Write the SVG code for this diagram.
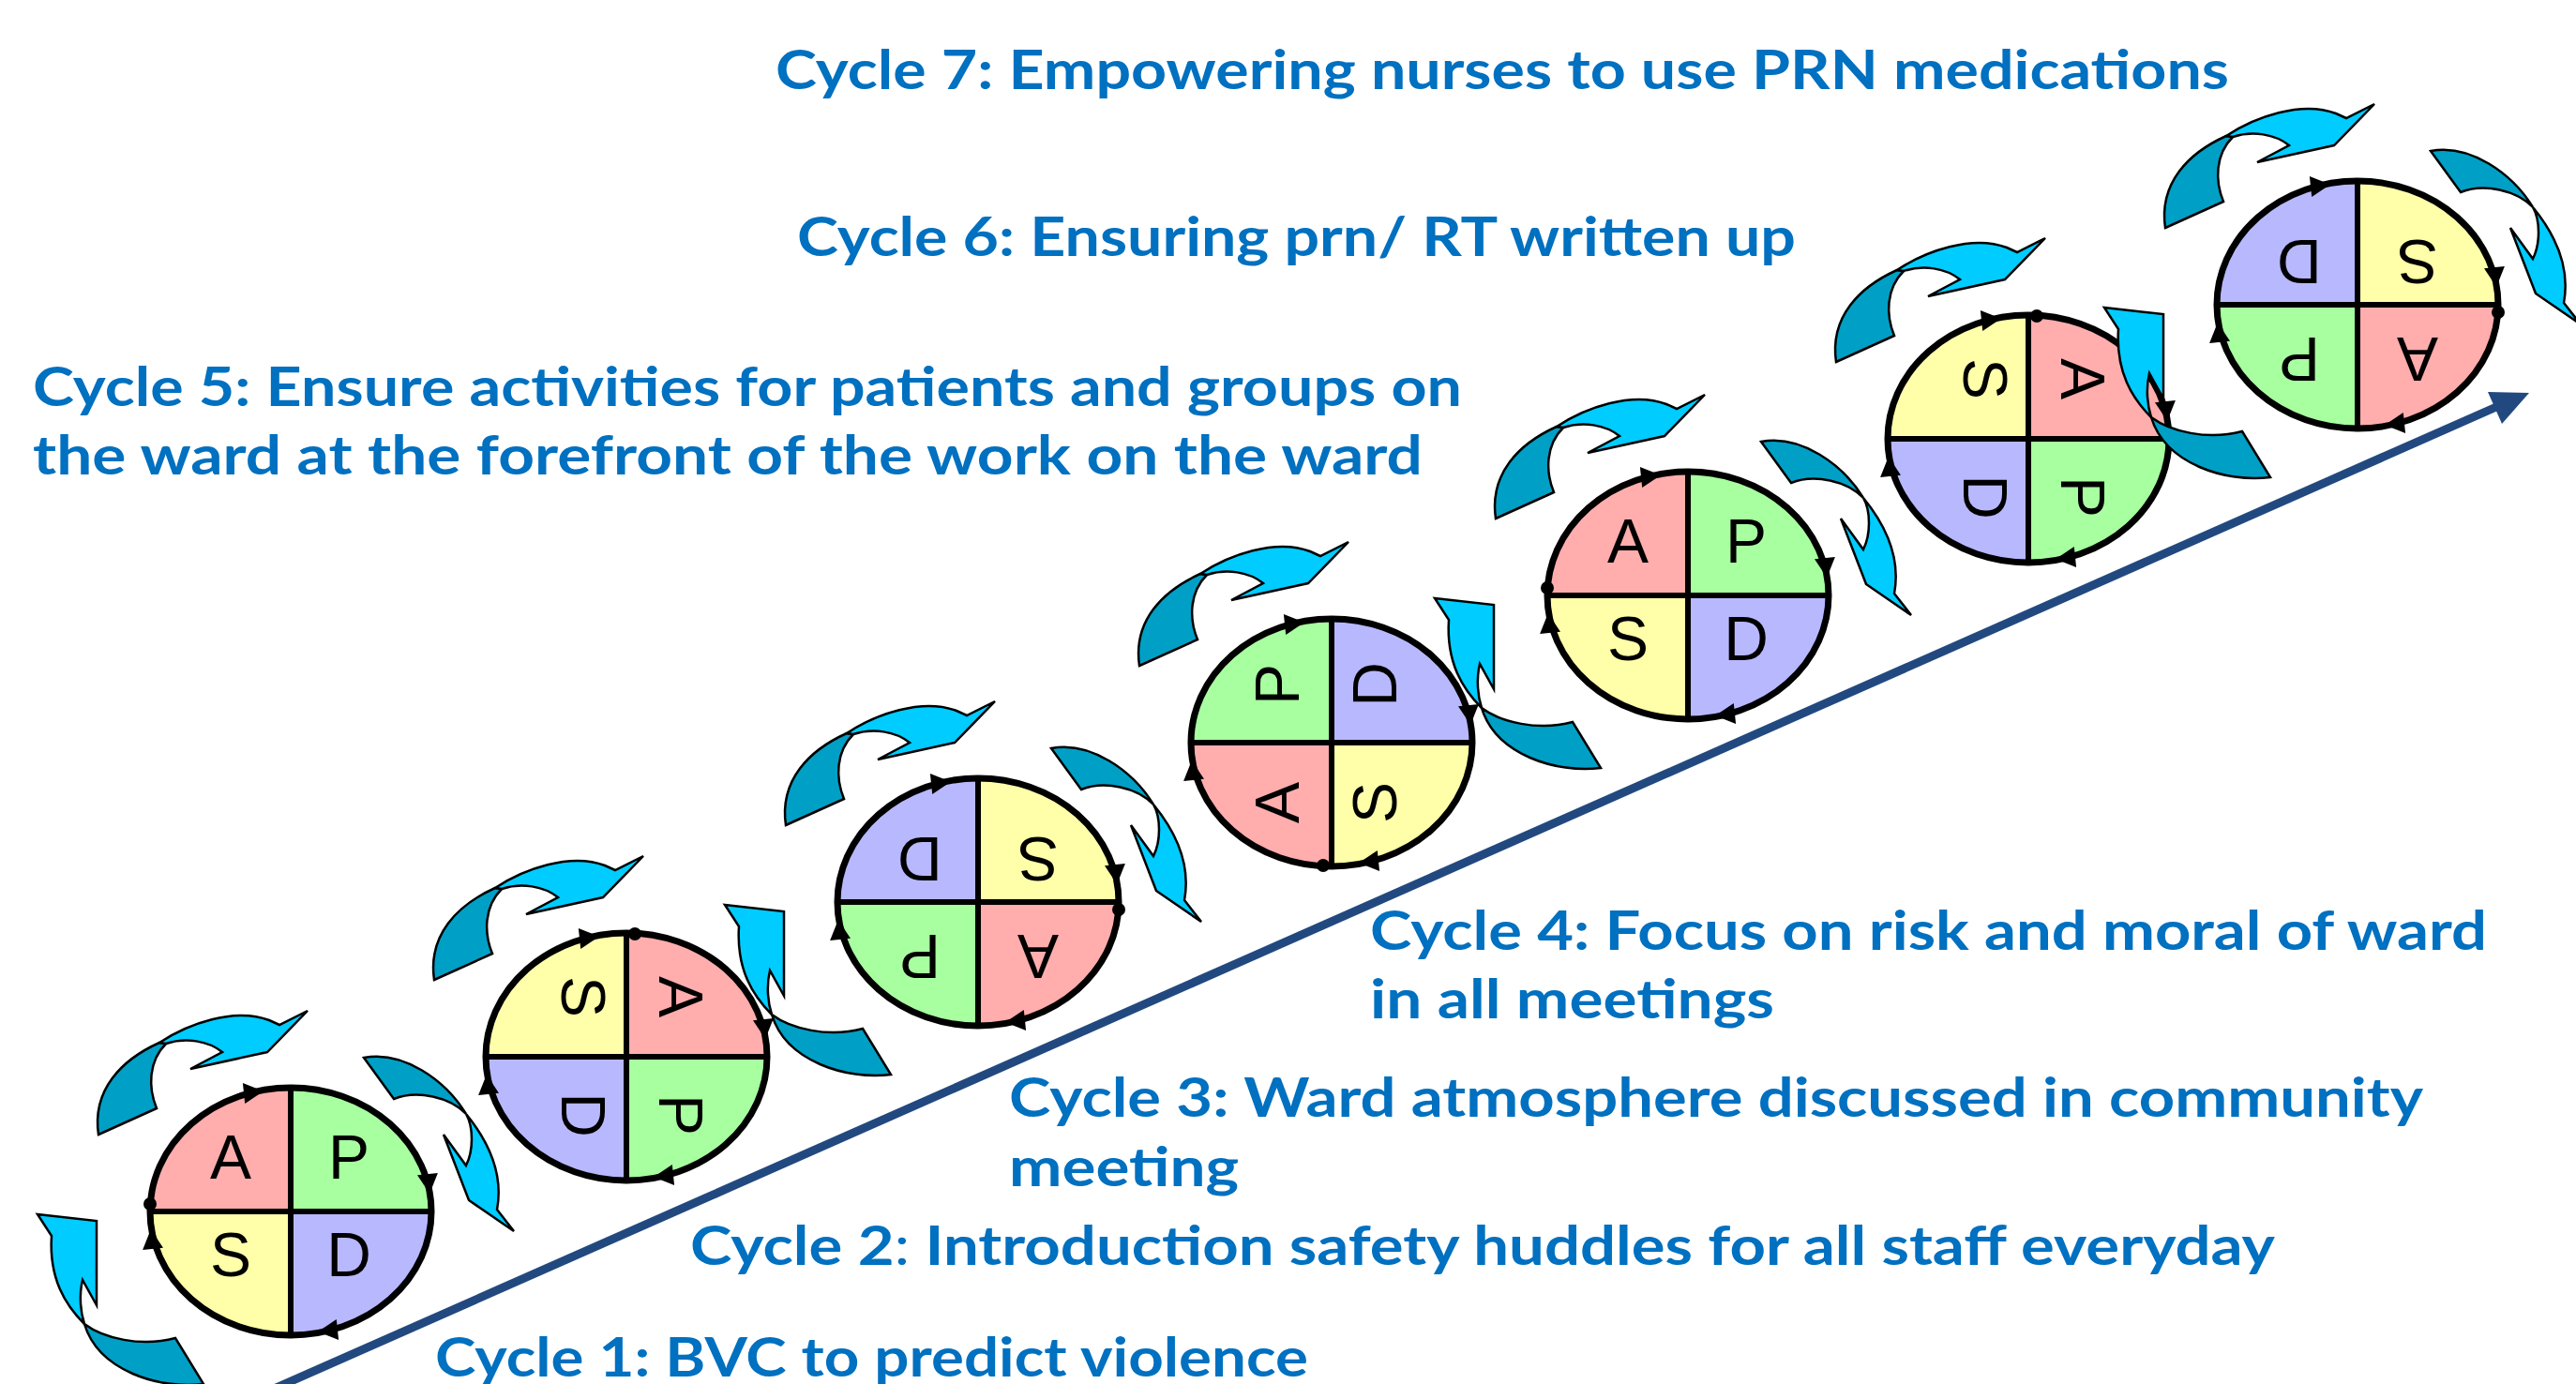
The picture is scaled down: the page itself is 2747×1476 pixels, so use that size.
<svg xmlns="http://www.w3.org/2000/svg" width="2747" height="1476" viewBox="0 0 2747 1476">
<style>
.ol{fill:none;stroke:#000;stroke-width:7}
.dv{stroke:#000;stroke-width:6}
.lt{font-family:"Liberation Sans",Arial,sans-serif;font-size:66px;text-anchor:middle;fill:#000}
.ab{fill:#00CCFF;stroke:#000;stroke-width:2.5;stroke-linejoin:miter}
.ad{fill:#00A0C6;stroke:#000;stroke-width:2.5;stroke-linejoin:miter}
.t{font-family:Lato,"Open Sans",sans-serif;font-weight:bold;font-size:58px;fill:#0070C0}
.blob{fill:#000}
</style>
<defs>
<path id="qTL" d="M0,0 L-150,0 A150,132 0 0 1 0,-132 Z"/>
<path id="qTR" d="M0,0 L0,-132 A150,132 0 0 1 150,0 Z"/>
<path id="qBR" d="M0,0 L150,0 A150,132 0 0 1 0,132 Z"/>
<path id="qBL" d="M0,0 L0,132 A150,132 0 0 1 -150,0 Z"/>
<path id="tri" d="M-10,-11 L11,0 L-10,11 Z" fill="#000"/>
<g id="frame">
<line class="dv" x1="-150" y1="0" x2="150" y2="0"/>
<line class="dv" x1="0" y1="-132" x2="0" y2="132"/>
<ellipse class="ol" cx="0" cy="0" rx="150" ry="132"/>
<use href="#tri" transform="translate(-40,-127) rotate(-6)"/>
<use href="#tri" transform="translate(147,-30) rotate(84)"/>
<use href="#tri" transform="translate(40,127) rotate(174)"/>
<use href="#tri" transform="translate(-148,30) rotate(-96)"/>
</g>
<g id="letters">
<text class="lt" x="-64" y="-35">A</text>
<text class="lt" x="62" y="-35">P</text>
<text class="lt" x="-64" y="69">S</text>
<text class="lt" x="62" y="69">D</text>
</g>
<g id="arrTop">
<path class="ad" d="M-205,-82 L-143,-110 C-152,-132 -152,-160 -133,-179 L-140,-180 C-180,-162 -212,-130 -205,-82 Z"/>
<path class="ab" d="M-140,-180 C-110,-200 -60,-218 -23,-204 L-12,-199 L18,-214 L-25,-170 L-107,-152 L-73,-170 C-88,-182 -112,-186 -133,-179 Z"/>
</g>
<g id="arrRight">
<path class="ad" d="M78,-164 L110,-120 C135,-130 170,-122 187,-104 C165,-140 120,-172 78,-164 Z"/>
<path class="ab" d="M187,-104 C205,-82 228,-45 220,-2 L238,21 L190,-12 L163,-82 L187,-49 C195,-65 195,-90 187,-104 Z"/>
</g>
<g id="arrLeft">
<path class="ad" d="M-220,120 C-200,135 -160,145 -123,135 L-93,184 C-140,190 -205,170 -220,120 Z"/>
<path class="ab" d="M-270,3 L-207,10 L-207,100 L-222,73 C-226,90 -224,108 -220,120 C-240,100 -258,72 -255,26 Z"/>
</g>
</defs>
<g id="connectors">
<line x1="290" y1="1482" x2="2662" y2="434" stroke="#22497F" stroke-width="9"/>
<polygon points="2697,419 2653,418 2668,452" fill="#22497F"/>
</g>
<g id="cycle2" transform="translate(668,1127)">
<use href="#arrTop"/>
<use href="#qTL" fill="#FFFFAA"/><use href="#qTR" fill="#FFADAD"/><use href="#qBL" fill="#B8B8FF"/><use href="#qBR" fill="#A8FFA0"/>
<use href="#frame"/><circle class="blob" cx="9" cy="-131" r="7"/>
<use href="#letters" transform="rotate(90)"/>
</g>
<g id="cycle4" transform="translate(1420,792)">
<use href="#arrTop"/>
<use href="#qTL" fill="#A8FFA0"/><use href="#qTR" fill="#B8B8FF"/><use href="#qBL" fill="#FFADAD"/><use href="#qBR" fill="#FFFFAA"/>
<use href="#frame"/><circle class="blob" cx="-9" cy="131" r="7"/>
<use href="#letters" transform="rotate(270)"/>
</g>
<g id="cycle6" transform="translate(2163,468)">
<use href="#arrTop"/>
<use href="#qTL" fill="#FFFFAA"/><use href="#qTR" fill="#FFADAD"/><use href="#qBL" fill="#B8B8FF"/><use href="#qBR" fill="#A8FFA0"/>
<use href="#frame"/><circle class="blob" cx="9" cy="-131" r="7"/>
<use href="#letters" transform="rotate(90)"/>
</g>
<g id="cycle1" transform="translate(310,1292)">
<use href="#arrLeft"/><use href="#arrTop"/><use href="#arrRight"/>
<use href="#qTL" fill="#FFADAD"/><use href="#qTR" fill="#A8FFA0"/><use href="#qBL" fill="#FFFFAA"/><use href="#qBR" fill="#B8B8FF"/>
<use href="#frame"/><circle class="blob" cx="-150" cy="-8" r="7"/>
<use href="#letters"/>
</g>
<g id="cycle3" transform="translate(1043,962)">
<use href="#arrLeft"/><use href="#arrTop"/><use href="#arrRight"/>
<use href="#qTL" fill="#B8B8FF"/><use href="#qTR" fill="#FFFFAA"/><use href="#qBL" fill="#A8FFA0"/><use href="#qBR" fill="#FFADAD"/>
<use href="#frame"/><circle class="blob" cx="150" cy="8" r="7"/>
<use href="#letters" transform="rotate(180)"/>
</g>
<g id="cycle5" transform="translate(1800,635)">
<use href="#arrLeft"/><use href="#arrTop"/><use href="#arrRight"/>
<use href="#qTL" fill="#FFADAD"/><use href="#qTR" fill="#A8FFA0"/><use href="#qBL" fill="#FFFFAA"/><use href="#qBR" fill="#B8B8FF"/>
<use href="#frame"/><circle class="blob" cx="-150" cy="-8" r="7"/>
<use href="#letters"/>
</g>
<g id="cycle7" transform="translate(2514,325)">
<use href="#arrLeft"/><use href="#arrTop"/><use href="#arrRight"/>
<use href="#qTL" fill="#B8B8FF"/><use href="#qTR" fill="#FFFFAA"/><use href="#qBL" fill="#A8FFA0"/><use href="#qBR" fill="#FFADAD"/>
<use href="#frame"/><circle class="blob" cx="150" cy="8" r="7"/>
<use href="#letters" transform="rotate(180)"/>
</g>
<g id="labels">
<text class="t" x="827" y="95" textLength="1550" lengthAdjust="spacingAndGlyphs">Cycle 7: Empowering nurses to use PRN medications</text>
<text class="t" x="850" y="273" textLength="1065" lengthAdjust="spacingAndGlyphs">Cycle 6: Ensuring prn/ RT written up</text>
<text class="t" x="35" y="433" textLength="1524" lengthAdjust="spacingAndGlyphs">Cycle 5: Ensure activities for patients and groups on</text>
<text class="t" x="35" y="506" textLength="1482" lengthAdjust="spacingAndGlyphs">the ward at the forefront of the work on the ward</text>
<text class="t" x="1461" y="1013" textLength="1191" lengthAdjust="spacingAndGlyphs">Cycle 4: Focus on risk and moral of ward</text>
<text class="t" x="1461" y="1086" textLength="431" lengthAdjust="spacingAndGlyphs">in all meetings</text>
<text class="t" x="1076" y="1191" textLength="1508" lengthAdjust="spacingAndGlyphs">Cycle 3: Ward atmosphere discussed in community</text>
<text class="t" x="1076" y="1265" textLength="245" lengthAdjust="spacingAndGlyphs">meeting</text>
<text class="t" x="736" y="1349" textLength="1690" lengthAdjust="spacingAndGlyphs">Cycle 2<tspan font-weight="normal">:</tspan> Introduction safety huddles for all staff everyday</text>
<text class="t" x="464" y="1468" textLength="931" lengthAdjust="spacingAndGlyphs">Cycle 1: BVC to predict violence</text>
</g>
</svg>
